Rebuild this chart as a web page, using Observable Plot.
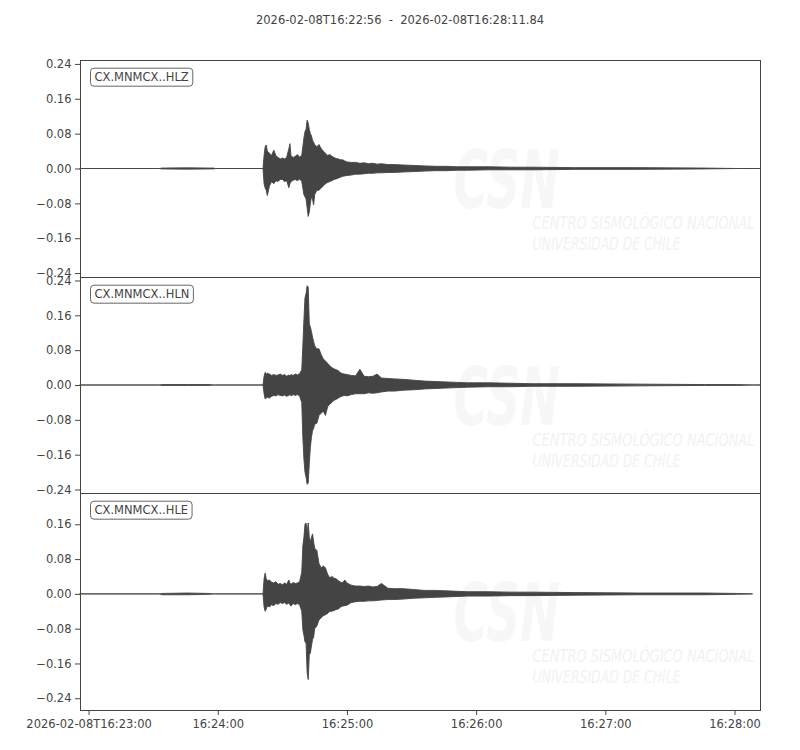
<!DOCTYPE html>
<html><head><meta charset="utf-8">
<script src="https://cdn.jsdelivr.net/npm/d3@7"></script>
<script src="https://cdn.jsdelivr.net/npm/@observablehq/plot@0.6"></script>
<style>
body{margin:0;background:#fff;font-family:"DejaVu Sans",sans-serif;}
#title{height:40px;line-height:40px;text-align:center;font-size:11.5px;color:#444;white-space:pre;}
#chart svg{display:block;overflow:visible;}
</style></head><body>
<div id="title"></div>
<div id="chart"></div>
<script>
// ---- data ----
const startIso = "2026-02-08T16:22:56Z";
const endIso = "2026-02-08T16:28:11.84Z";
const titleParts = ["2026-02-08T16:22:56", "2026-02-08T16:28:11.84"];
const channels = ["CX.MNMCX..HLZ", "CX.MNMCX..HLN", "CX.MNMCX..HLE"];

// y limits of each panel (the HLE panel is not centred on zero)
const yLimits = [[-0.249, 0.249], [-0.248, 0.248], [-0.267, 0.232]];

// seconds after start of each envelope sample
const tSec = [
  0, 37, 38, 50, 60, 62, 63, 85,
  85.5, 86, 86.5, 87, 88, 89, 90, 91, 92, 93,
  94, 95, 96, 97, 97.5, 98, 99, 100, 101, 102,
  103, 103.5, 104, 104.5, 105, 105.5, 106, 106.5, 107, 107.5,
  108, 108.5, 109, 110, 111, 112, 113, 114, 115, 116,
  117, 118, 119, 120, 121, 122, 123, 124, 126, 128,
  130, 132, 134, 136, 138, 140, 143, 146, 150, 155,
  160, 165, 170, 175, 180, 190, 200, 210, 230, 260,
  290, 305, 312.4, 315.84
];

// HLZ envelope (upper / lower)
const zHi = [
  0, 0, 0.001, 0.0015, 0.001, 0.001, 0, 0,
  0.03, 0.05, 0.054, 0.04, 0.035, 0.03, 0.042, 0.03, 0.025, 0.022,
  0.024, 0.022, 0.026, 0.045, 0.057, 0.03, 0.025, 0.028, 0.032, 0.026,
  0.03, 0.05, 0.07, 0.085, 0.09, 0.111, 0.104, 0.09, 0.08, 0.075,
  0.065, 0.06, 0.055, 0.05, 0.055, 0.046, 0.04, 0.035, 0.03, 0.032,
  0.028, 0.025, 0.023, 0.022, 0.02, 0.02, 0.017, 0.015, 0.014, 0.014,
  0.012, 0.013, 0.011, 0.012, 0.01, 0.011, 0.009, 0.009, 0.008, 0.007,
  0.006, 0.005, 0.005, 0.004, 0.004, 0.004, 0.003, 0.003, 0.002, 0.002,
  0.001, 0, 0, 0
];
const zLo = [
  0, 0, -0.001, -0.0015, -0.001, -0.001, 0, 0,
  -0.035, -0.045, -0.05, -0.062, -0.04, -0.03, -0.035, -0.028, -0.03, -0.025,
  -0.025, -0.03, -0.028, -0.044, -0.035, -0.03, -0.027, -0.025, -0.028, -0.024,
  -0.03, -0.045, -0.06, -0.065, -0.07, -0.09, -0.11, -0.1, -0.08, -0.065,
  -0.07, -0.084, -0.06, -0.05, -0.05, -0.045, -0.04, -0.035, -0.032, -0.03,
  -0.028, -0.025, -0.024, -0.022, -0.02, -0.018, -0.017, -0.016, -0.015, -0.013,
  -0.013, -0.012, -0.011, -0.011, -0.01, -0.01, -0.009, -0.009, -0.008, -0.007,
  -0.006, -0.005, -0.005, -0.004, -0.004, -0.003, -0.003, -0.003, -0.002, -0.002,
  -0.001, 0, 0, 0
];

// HLN envelope
const nHi = [
  0, 0, 0.001, 0.001, 0.001, 0, 0, 0,
  0.02, 0.029, 0.025, 0.027, 0.025, 0.022, 0.024, 0.022, 0.023, 0.025,
  0.022, 0.024, 0.02, 0.023, 0.021, 0.024, 0.022, 0.025, 0.023, 0.026,
  0.035, 0.09, 0.15, 0.2, 0.21, 0.228, 0.225, 0.14, 0.133, 0.123,
  0.11, 0.1, 0.09, 0.083, 0.083, 0.07, 0.06, 0.055, 0.05, 0.044,
  0.04, 0.037, 0.035, 0.033, 0.028, 0.026, 0.025, 0.024, 0.022, 0.021,
  0.036, 0.02, 0.019, 0.02, 0.025, 0.016, 0.015, 0.014, 0.013, 0.011,
  0.009, 0.008, 0.007, 0.006, 0.005, 0.005, 0.004, 0.003, 0.003, 0.002,
  0.001, 0.001, 0, 0
];
const nLo = [
  0, 0, -0.001, -0.001, -0.001, 0, 0, 0,
  -0.02, -0.032, -0.03, -0.028, -0.03, -0.026, -0.024, -0.025, -0.022, -0.024,
  -0.025, -0.023, -0.026, -0.024, -0.022, -0.025, -0.022, -0.024, -0.022, -0.025,
  -0.04, -0.12, -0.17, -0.2, -0.212, -0.228, -0.225, -0.18, -0.143, -0.12,
  -0.105, -0.1, -0.09, -0.088, -0.07, -0.065, -0.06, -0.07, -0.05, -0.044,
  -0.04, -0.035, -0.033, -0.03, -0.027, -0.025, -0.024, -0.025, -0.022, -0.02,
  -0.02, -0.02, -0.018, -0.019, -0.018, -0.016, -0.014, -0.014, -0.012, -0.011,
  -0.009, -0.008, -0.007, -0.006, -0.005, -0.004, -0.004, -0.003, -0.003, -0.002,
  -0.001, -0.001, 0, 0
];

// HLE envelope (trace ends at 312.4 s)
const eHi = [
  0, 0, 0.001, 0.002, 0.001, 0, 0, 0,
  0.035, 0.048, 0.035, 0.03, 0.032, 0.027, 0.025, 0.028, 0.022, 0.024,
  0.021, 0.025, 0.022, 0.032, 0.025, 0.022, 0.026, 0.024, 0.025, 0.028,
  0.05, 0.11, 0.13, 0.16, 0.163, 0.14, 0.163, 0.13, 0.12, 0.13,
  0.138, 0.12, 0.105, 0.1, 0.07, 0.06, 0.064, 0.06, 0.045, 0.037,
  0.04, 0.036, 0.035, 0.03, 0.027, 0.026, 0.032, 0.025, 0.02, 0.018,
  0.018, 0.017, 0.018, 0.016, 0.017, 0.024, 0.013, 0.012, 0.012, 0.01,
  0.008, 0.008, 0.007, 0.006, 0.005, 0.005, 0.004, 0.004, 0.003, 0.002,
  0.002, 0.001, 0, null
];
const eLo = [
  0, 0, -0.002, -0.002, -0.001, 0, 0, 0,
  -0.03, -0.04, -0.035, -0.028, -0.03, -0.025, -0.027, -0.022, -0.024, -0.02,
  -0.022, -0.02, -0.024, -0.021, -0.025, -0.028, -0.022, -0.025, -0.022, -0.025,
  -0.04, -0.082, -0.095, -0.11, -0.113, -0.18, -0.197, -0.14, -0.136, -0.12,
  -0.105, -0.1, -0.08, -0.074, -0.06, -0.055, -0.05, -0.048, -0.045, -0.04,
  -0.04, -0.038, -0.036, -0.035, -0.03, -0.028, -0.027, -0.026, -0.02, -0.018,
  -0.017, -0.017, -0.016, -0.016, -0.015, -0.014, -0.013, -0.013, -0.012, -0.01,
  -0.009, -0.008, -0.007, -0.006, -0.005, -0.005, -0.004, -0.004, -0.003, -0.002,
  -0.002, -0.001, 0, null
];

const yTicks = [-0.24, -0.16, -0.08, 0, 0.08, 0.16, 0.24];
const xTickIso = ["2026-02-08T16:23:00Z", "2026-02-08T16:24:00Z", "2026-02-08T16:25:00Z",
                  "2026-02-08T16:26:00Z", "2026-02-08T16:27:00Z", "2026-02-08T16:28:00Z"];
const watermarkLines = ["CSN", "CENTRO SISMOLÓGICO NACIONAL", "UNIVERSIDAD DE CHILE"];

// ---- build ----
const t0 = new Date(startIso);
const tEnd = new Date(endIso);
const his = [zHi, nHi, eHi], los = [zLo, nLo, eLo];
const xTicks = xTickIso.map(d => new Date(d));
document.getElementById("title").textContent = titleParts.join("  -  ");

const ink = "#444";
const wmBig = "#f7f7f7";
const wmText = "#f2f2f2";
// panel svg sizes: [height, marginTop, marginBottom]
const panelBox = [[237, 20, 0], [216, 0, 0], [257, 0, 40]];

channels.forEach((ch, i) => {
  const rows = tSec.map((s, j) => ({t: new Date(+t0 + s * 1000), hi: his[i][j], lo: los[i][j]}));
  const [lo, hi] = yLimits[i];
  const ticks = yTicks.filter(v => v >= lo && v <= hi);
  const bottom = i === channels.length - 1;
  const [h, mt, mb] = panelBox[i];
  const marks = [
    Plot.text([watermarkLines[0]], {text: d => d, frameAnchor: "top-left", dx: 373, dy: 122,
      textAnchor: "start", lineAnchor: "middle", fontSize: 80, fontWeight: "bold", fontStyle: "italic",
      fill: wmBig, className: "wm-big"}),
    Plot.text([watermarkLines[1]], {text: d => d, frameAnchor: "top-left", dx: 452, dy: 163,
      textAnchor: "start", lineAnchor: "middle", fontSize: 17, fontWeight: 200, fontStyle: "italic",
      fill: wmText, className: "wm-l1"}),
    Plot.text([watermarkLines[2]], {text: d => d, frameAnchor: "top-left", dx: 452, dy: 184,
      textAnchor: "start", lineAnchor: "middle", fontSize: 17, fontWeight: 200, fontStyle: "italic",
      fill: wmText, className: "wm-l2"}),
    Plot.areaY(rows, {x: "t", y1: "lo", y2: "hi", fill: ink, stroke: ink, strokeWidth: 0.9}),
    Plot.frame({stroke: ink, strokeWidth: 1}),
    Plot.axisY({ticks, tickFormat: d3.format(".2f"), tickSize: 5, tickPadding: 4, stroke: ink, label: null}),
    Plot.text([ch], {text: d => d, frameAnchor: "top-left", dx: 14, dy: 17,
      textAnchor: "start", lineAnchor: "middle", fill: ink, className: "chlabel"})
  ];
  if (bottom) marks.push(Plot.axisX({ticks: xTicks, tickSize: 5, tickPadding: 4, stroke: ink, label: null,
      tickFormat: d => (+d === +xTicks[0] ? d3.utcFormat("%Y-%m-%dT%H:%M:%S")(d) : d3.utcFormat("%H:%M:%S")(d))}));
  const plot = Plot.plot({
    width: 800, height: h,
    marginTop: mt, marginBottom: mb, marginLeft: 80, marginRight: 40,
    style: {fontFamily: "DejaVu Sans, sans-serif", fontSize: "11.5px", color: ink, background: "transparent", overflow: "visible"},
    x: {type: "utc", domain: [t0, tEnd], axis: bottom ? undefined : null},
    y: {domain: [lo, hi]},
    marks
  });
  document.getElementById("chart").append(plot);

  // stretch watermark text to its printed width
  const fit = {"wm-big": 106, "wm-l1": 222, "wm-l2": 148};
  for (const [cls, w] of Object.entries(fit)) {
    plot.querySelectorAll(`g.${cls} text`).forEach(t => {
      t.setAttribute("textLength", w);
      t.setAttribute("lengthAdjust", "spacingAndGlyphs");
    });
  }
  // boxed channel label
  plot.querySelectorAll("g.chlabel text").forEach(t => {
    const b = t.getBBox();
    const r = document.createElementNS("http://www.w3.org/2000/svg", "rect");
    r.setAttribute("x", b.x - 4);
    r.setAttribute("y", b.y - 2);
    r.setAttribute("width", b.width + 8);
    r.setAttribute("height", b.height + 4);
    r.setAttribute("rx", 3.5);
    r.setAttribute("fill", "#fff");
    r.setAttribute("stroke", "#666");
    r.setAttribute("stroke-width", 1);
    if (t.getAttribute("transform")) r.setAttribute("transform", t.getAttribute("transform"));
    t.parentNode.insertBefore(r, t);
  });
});
</script>
</body></html>
